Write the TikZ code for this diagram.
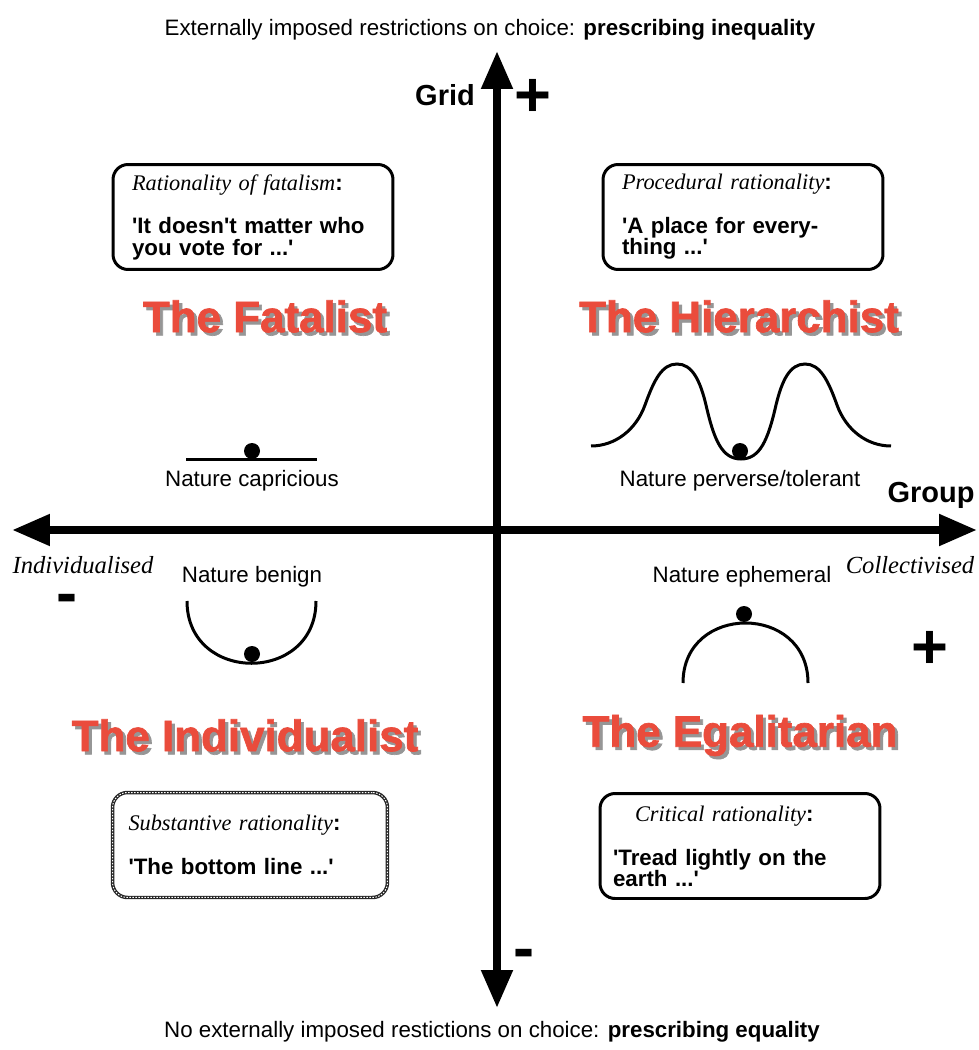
\documentclass[tikz,border=0pt]{standalone}
\usepackage{fontspec}
\setmainfont{Liberation Sans}
\newfontfamily\timesfont{Liberation Serif}
\newfontfamily\heavyfont{Liberation Sans}[BoldFeatures={FakeBold=1.5}]
\usetikzlibrary{arrows.meta}
\definecolor{titlered}{RGB}{234,76,60}
\definecolor{shadowgray}{RGB}{150,150,150}
\newcommand{\q}{\textquotesingle}
\newcommand{\shadowed}[1]{\makebox[0pt][l]{\hspace{1.8pt}\raisebox{-1.8pt}{\textcolor{shadowgray}{#1}}}#1}

\begin{document}
\begin{tikzpicture}[
  x=0.02cm, y=-0.02cm,
  every node/.style={font=\fontsize{12.7}{12}\selectfont, inner sep=0pt},
  axis/.style={line width=0.16cm,
               {Triangle[length=0.76cm,width=0.6cm]}-{Triangle[length=0.76cm,width=0.6cm]}},
  axislabel/.style={font=\fontsize{16.5}{18}\selectfont\bfseries},
  poletext/.style={font=\fontsize{14}{16}\selectfont\timesfont\itshape},
  sign/.style={font=\fontsize{36}{40}\selectfont\bfseries, anchor=base},
  title/.style={text=titlered, font=\fontsize{25}{30}\selectfont\heavyfont\bfseries},
  quotebox/.style={draw, line width=0.06cm, rounded corners=0.3cm, align=left,
                   inner xsep=0.38cm, inner ysep=0pt, text width=4.84cm,
                   minimum height=2.1cm},
  dotbox/.style={quotebox, draw=black!85, line width=0.07cm,
                 postaction={draw=white, line width=0.02cm,
                             dash pattern=on 0.03cm off 0.03cm}},
  curve/.style={line width=0.06cm},
  ball/.style={circle, fill, minimum size=0.32cm},
]
\useasboundingbox (0,0) rectangle (978,1050);

%% Header and footer
\node (header) at (490,30)
  {Externally imposed restrictions on choice: \textbf{prescribing inequality}};
\node (footer) at (492,1032)
  {No externally imposed restictions on choice: \textbf{prescribing equality}};

%% Axes
\coordinate (gridtop) at (497,51);
\coordinate (gridbot) at (497,1008);
\coordinate (groupwest) at (12,530);
\coordinate (groupeast) at (977,530);
\draw[axis] (gridbot) -- (gridtop);
\draw[axis] (groupwest) -- (groupeast);

\node[axislabel] (gridlabel) at (445,95) {Grid};
\node[axislabel] (grouplabel) at (931,495) {Group};
\node[poletext] (indiv) at (83,565) {Individualised};
\node[poletext] (collect) at (910,565) {Collectivised};

\node[sign] (gridplus) at (533,117) {+};
\node[sign] (gridminus) at (524,969) {-};
\node[sign] (groupminus) at (67,614) {-};
\node[sign] (groupplus) at (930,668) {+};

%% Rationality boxes
\node[quotebox] (fatbox) at (253,217)
  {{\timesfont\itshape Rationality of fatalism}\textbf{:}\\[13pt]\bfseries
   \q It doesn\q t matter who\\you vote for ...\q};
\node[quotebox] (hierbox) at (743,217)
  {{\timesfont\itshape Procedural rationality}\textbf{:}\\[13pt]\bfseries
   \q A place for every-\\thing ...\q};
\node[dotbox, text width=4.86cm, inner xsep=0.32cm] (indbox) at (250,845)
  {{\timesfont\itshape Substantive rationality}\textbf{:}\\[13pt]\bfseries
   \q The bottom line ...\q};
\node[quotebox, inner xsep=0.26cm, text width=5.08cm] (egalbox) at (740,846)
  {\hspace{0.44cm}{\timesfont\itshape Critical rationality}\textbf{:}\\[13pt]\bfseries
   \q Tread lightly on the\\earth ...\q};

%% Cultural types
\node[title] (fatalist) at (265,318) {\shadowed{The Fatalist}};
\node[title] (hierarchist) at (739,318) {\shadowed{The Hierarchist}};
\node[title] (individualist) at (245,737) {\shadowed{The Individualist}};
\node[title] (egalitarian) at (740,737) {\shadowed{The Egalitarian}};

%% Myths of nature
\draw[curve] (186,459) -- (317,459);
\node[ball] (capball) at (252,451) {};
\node (capricious) at (252,481) {Nature capricious};

\draw[curve] (591,446) .. controls (615,446) and (636,430) .. (645,405)
  .. controls (654,380) and (662,364) .. (677,364)
  .. controls (692,364) and (700,380) .. (706,405)
  .. controls (714,440) and (722,459) .. (741,459)
  .. controls (760,459) and (768,440) .. (776,405)
  .. controls (782,380) and (790,364) .. (805,364)
  .. controls (820,364) and (828,380) .. (837,405)
  .. controls (846,430) and (867,446) .. (891,446);
\node[ball] (perball) at (740,451) {};
\node (perverse) at (740,481) {Nature perverse/tolerant};

\draw[curve] (187,601) .. controls (187,684) and (316,684) .. (316,601);
\node[ball] (benball) at (252,654) {};
\node (benign) at (252,577) {Nature benign};

\draw[curve] (683,683) .. controls (683,603) and (808,603) .. (808,683);
\node[ball] (ephball) at (744,614) {};
\node (ephemeral) at (742,577) {Nature ephemeral};

\end{tikzpicture}
\end{document}
